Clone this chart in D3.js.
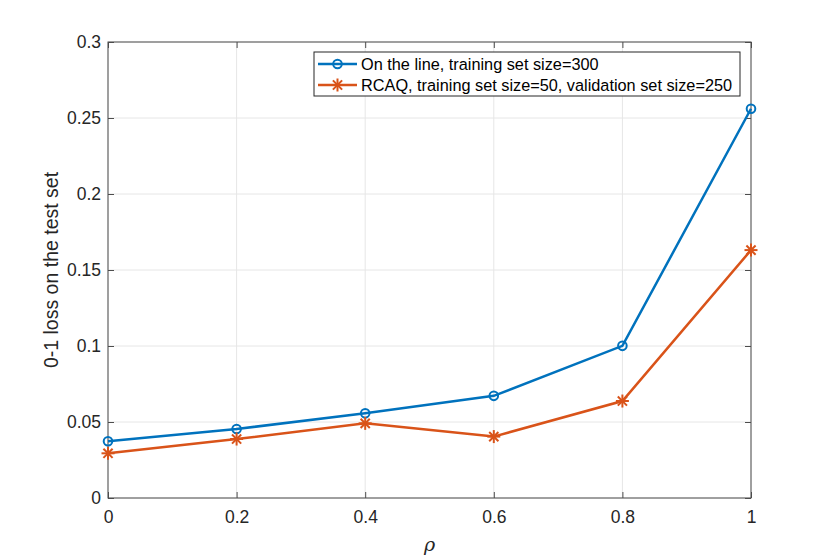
<!DOCTYPE html>
<html>
<head>
<meta charset="utf-8">
<script src="https://cdn.jsdelivr.net/npm/d3@7"></script>
<style>
  body { margin: 0; background: #fff; }
  text { font-family: "Liberation Sans", Arial, sans-serif; }
</style>
</head>
<body>
<div id="viz"></div>
<script>
// chart data
const RHO = [0, 0.2, 0.4, 0.6, 0.8, 1];
const ON_LINE = [0.0373, 0.0454, 0.0557, 0.0672, 0.1001, 0.2561];
const RCAQ = [0.0294, 0.0388, 0.0491, 0.0404, 0.0638, 0.1631];
const X_TICKS = [0, 0.2, 0.4, 0.6, 0.8, 1];
const Y_TICKS = [0, 0.05, 0.1, 0.15, 0.2, 0.25, 0.3];
const LEGEND = ["On the line, training set size=300",
                "RCAQ, training set size=50, validation set size=250"];

const F_WIDTH = 830;
const F_HEIGHT = 560;
const MARGINS = {left: 108, right: 79, top: 42, bottom: 62};
const VIS_WIDTH = F_WIDTH - MARGINS.left - MARGINS.right;
const VIS_HEIGHT = F_HEIGHT - MARGINS.top - MARGINS.bottom;

const BLUE = "#0072bd";
const ORANGE = "#d95319";
const AXIS = "#4d4d4d";

const FRAME = d3.select("#viz")
  .append("svg")
    .attr("width", F_WIDTH)
    .attr("height", F_HEIGHT);

const X_SCALE = d3.scaleLinear().domain([0, 1]).range([0, VIS_WIDTH]);
const Y_SCALE = d3.scaleLinear().domain([0, 0.3]).range([VIS_HEIGHT, 0]);

const G = FRAME.append("g")
  .attr("transform", "translate(" + MARGINS.left + "," + MARGINS.top + ")");

// grid
G.append("g").selectAll("line").data(X_TICKS).enter().append("line")
  .attr("x1", d => X_SCALE(d)).attr("x2", d => X_SCALE(d))
  .attr("y1", 0).attr("y2", VIS_HEIGHT)
  .attr("stroke", "#e6e6e6").attr("stroke-width", 1);
G.append("g").selectAll("line").data(Y_TICKS).enter().append("line")
  .attr("x1", 0).attr("x2", VIS_WIDTH)
  .attr("y1", d => Y_SCALE(d)).attr("y2", d => Y_SCALE(d))
  .attr("stroke", "#e6e6e6").attr("stroke-width", 1);

// axes (ticks inside, box on)
const fmt = d => d3.format("~g")(d);
function styleAxis(g) {
  g.attr("font-family", null).attr("font-size", null);
  g.select(".domain").remove();
  g.selectAll(".tick line").attr("stroke", AXIS);
  g.selectAll(".tick text").attr("fill", "#262626").style("font-size", "17.5px");
}
G.append("g")
  .attr("transform", "translate(0," + VIS_HEIGHT + ")")
  .call(d3.axisBottom(X_SCALE).tickValues(X_TICKS).tickFormat(fmt).tickSizeInner(-6).tickPadding(12.5))
  .call(styleAxis);
G.append("g")
  .call(d3.axisTop(X_SCALE).tickValues(X_TICKS).tickFormat("").tickSizeInner(-6))
  .call(styleAxis);
G.append("g")
  .call(d3.axisLeft(Y_SCALE).tickValues(Y_TICKS).tickFormat(fmt).tickSizeInner(-6).tickPadding(7))
  .call(styleAxis);
G.append("g")
  .attr("transform", "translate(" + VIS_WIDTH + ",0)")
  .call(d3.axisRight(Y_SCALE).tickValues(Y_TICKS).tickFormat("").tickSizeInner(-6))
  .call(styleAxis);

G.append("rect")
  .attr("x", 0).attr("y", 0).attr("width", VIS_WIDTH).attr("height", VIS_HEIGHT)
  .attr("fill", "none").attr("stroke", AXIS).attr("stroke-width", 1);

// lines
const line = d3.line().x((d, i) => X_SCALE(RHO[i])).y(d => Y_SCALE(d));
G.append("path").datum(ON_LINE)
  .attr("d", line).attr("fill", "none").attr("stroke", BLUE).attr("stroke-width", 2.5);
G.append("path").datum(RCAQ)
  .attr("d", line).attr("fill", "none").attr("stroke", ORANGE).attr("stroke-width", 2.5);

// markers
G.selectAll(".circ").data(ON_LINE).enter().append("circle")
  .attr("cx", (d, i) => X_SCALE(RHO[i])).attr("cy", d => Y_SCALE(d))
  .attr("r", 4.3).attr("fill", "none").attr("stroke", BLUE).attr("stroke-width", 2);

function drawStar(sel, color) {
  // asterisk made of 4 strokes
  const r = 6.5;
  [0, 45, 90, 135].forEach(a => {
    sel.append("line")
      .attr("x1", -r).attr("x2", r).attr("y1", 0).attr("y2", 0)
      .attr("transform", "rotate(" + a + ")")
      .attr("stroke", color).attr("stroke-width", 2);
  });
}
G.selectAll(".star").data(RCAQ).enter().append("g")
  .attr("transform", (d, i) => "translate(" + X_SCALE(RHO[i]) + "," + Y_SCALE(d) + ")")
  .each(function() { drawStar(d3.select(this), ORANGE); });

// axis labels
FRAME.append("text")
  .attr("x", MARGINS.left + VIS_WIDTH / 2).attr("y", 551)
  .attr("text-anchor", "middle")
  .style("font-size", "19px").style("font-style", "italic").style("font-family", "DejaVu Serif, serif")
  .attr("fill", "#262626")
  .text("ρ");
FRAME.append("text")
  .attr("transform", "translate(58," + (MARGINS.top + VIS_HEIGHT / 2) + ") rotate(-90)")
  .attr("text-anchor", "middle")
  .style("font-size", "19.5px")
  .attr("fill", "#262626")
  .text("0-1 loss on the test set");

// legend
const LEG = G.append("g").attr("transform", "translate(" + (314 - MARGINS.left) + "," + (52 - MARGINS.top) + ")");
LEG.append("rect")
  .attr("width", 426).attr("height", 44)
  .attr("fill", "#fff").attr("stroke", "#262626").attr("stroke-width", 1);
const COLORS = [BLUE, ORANGE];
LEGEND.forEach((label, i) => {
  const y = 12 + i * 21;
  LEG.append("line").attr("x1", 4).attr("x2", 43).attr("y1", y).attr("y2", y)
    .attr("stroke", COLORS[i]).attr("stroke-width", 2.5);
  if (i === 0) {
    LEG.append("circle").attr("cx", 23.5).attr("cy", y).attr("r", 4.3)
      .attr("fill", "none").attr("stroke", BLUE).attr("stroke-width", 2);
  } else {
    drawStar(LEG.append("g").attr("transform", "translate(23.5," + y + ")"), ORANGE);
  }
  LEG.append("text").attr("x", 47).attr("y", y + 6)
    .style("font-size", "16.3px").attr("fill", "#000")
    .text(label);
});
</script>
</body>
</html>
